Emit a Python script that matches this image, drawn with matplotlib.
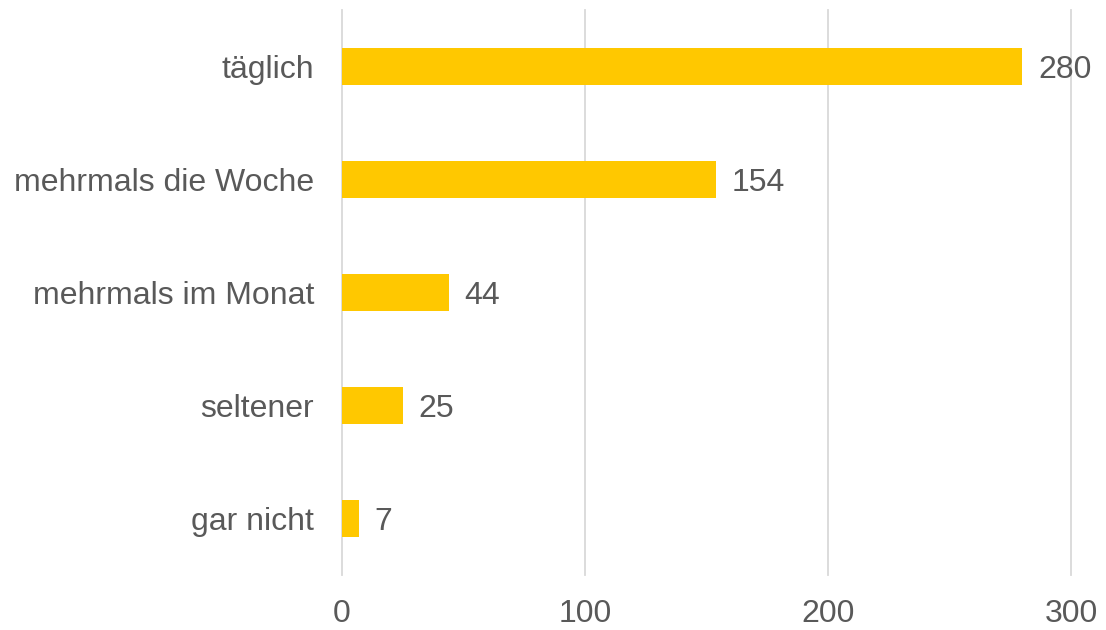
import matplotlib.pyplot as plt

plt.rcParams['font.family'] = ['Liberation Sans', 'DejaVu Sans']

# data
categories = ["täglich", "mehrmals die Woche", "mehrmals im Monat", "seltener", "gar nicht"]
values = [280, 154, 44, 25, 7]
xticks = [0, 100, 200, 300]

text_col = "#595959"
fs = 23

fig = plt.figure(figsize=(11.06, 6.30), dpi=100)
ax = fig.add_axes([342 / 1106, 1 - 575 / 630, (1071 - 342) / 1106, (575 - 10) / 630])

pos = list(range(len(categories)))
ax.barh(pos, values, height=0.32, color="#FFC800", zorder=2)

for p, v in zip(pos, values):
    ax.text(v + 6.5, p, str(v), va="center_baseline", ha="left", fontsize=fs, color=text_col)

ax.set_ylim(len(categories) - 0.5, -0.5)
ax.set_xlim(0, 300)
ax.set_xticks(xticks)
ax.set_yticks(pos)
ax.set_yticklabels(categories, va="center_baseline")
ax.grid(axis="x", color="#D9D9D9", linewidth=1.3, zorder=0)
ax.tick_params(axis="both", length=0, labelsize=fs, labelcolor=text_col)
ax.tick_params(axis="y", pad=20)
ax.tick_params(axis="x", pad=17)
for s in ax.spines.values():
    s.set_visible(False)
for gl in ax.get_xgridlines():
    gl.set_clip_on(False)

fig.savefig("out.png", dpi=100, facecolor="white")
